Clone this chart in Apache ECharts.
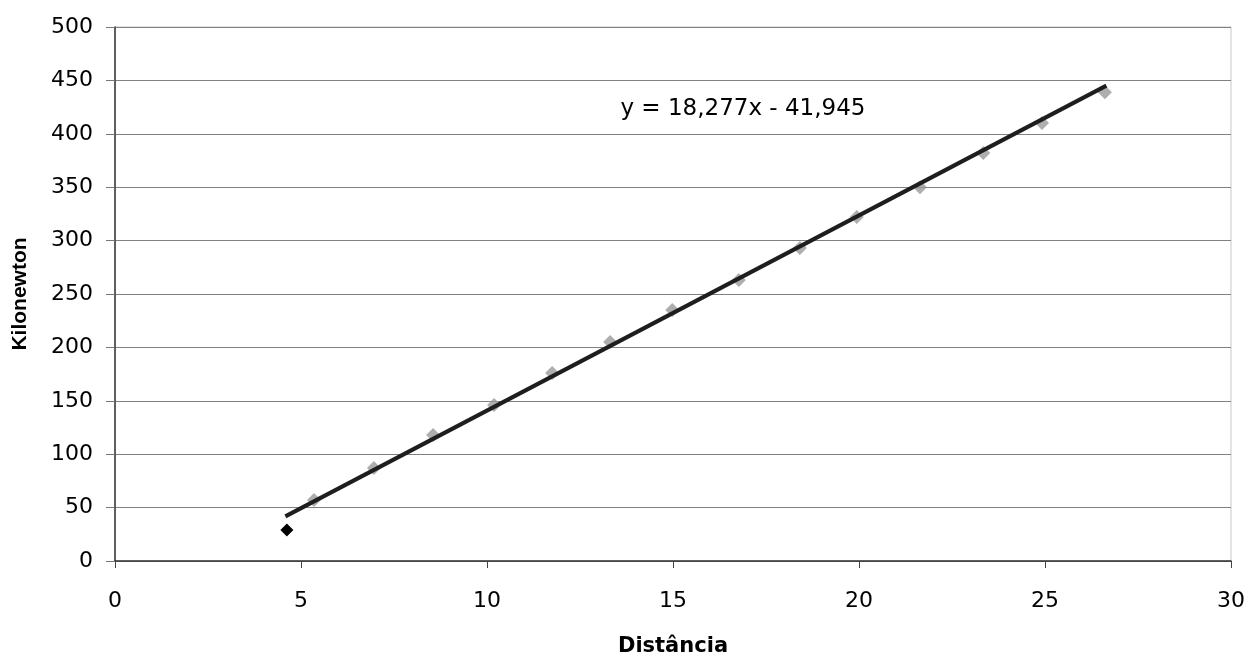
<!DOCTYPE html>
<html>
<head>
<meta charset="utf-8">
<script src="https://cdn.jsdelivr.net/npm/echarts@6/dist/echarts.min.js"></script>
<style>
html,body{margin:0;padding:0;background:#fff;}
#chart{width:1258px;height:660px;}
</style>
</head>
<body>
<div id="chart"></div>
<script>
// First (black) measurement
const firstX = [4.62];
const firstY = [29];
// Remaining measurements (gray diamonds)
const distancia = [5.35, 6.96, 8.55, 10.19, 11.75, 13.31, 14.98, 16.77, 18.41, 19.94, 21.64, 23.34, 24.92, 26.61];
const kilonewton = [57, 87, 118, 146, 176, 205, 235, 263, 293, 322, 350, 382, 410, 439];
// Linear trendline end points
const trendX = [4.58, 26.65];
const trendY = [41.8, 445.1];
const equationText = 'y = 18,277x - 41,945';
const xTicks = [0, 5, 10, 15, 20, 25, 30];
const yTicks = [0, 50, 100, 150, 200, 250, 300, 350, 400, 450, 500];

const zip = (a, b) => a.map((v, i) => [v, b[i]]);

const chart = echarts.init(document.getElementById('chart'), null, {renderer: 'canvas'});
chart.setOption({
  animation: false,
  backgroundColor: '#fff',
  grid: {left: 115, right: 27, top: 27, bottom: 99, outerBoundsMode: 'none', containLabel: false,
         show: true, borderColor: '#c8c8c8', borderWidth: 1, backgroundColor: 'transparent'},
  xAxis: {
    type: 'value', min: xTicks[0], max: xTicks[xTicks.length - 1], interval: 5,
    name: 'Distância', nameLocation: 'middle', nameGap: 75,
    nameTextStyle: {fontFamily: 'DejaVu Sans', fontWeight: 'bold', fontSize: 21, color: '#000'},
    axisLine: {show: true, onZero: false, lineStyle: {color: '#333', width: 1.5}},
    axisTick: {show: true, length: 7, lineStyle: {color: '#444'}},
    axisLabel: {fontFamily: 'DejaVu Sans', fontSize: 22, color: '#000', margin: 29},
    splitLine: {show: false}
  },
  yAxis: {
    type: 'value', min: yTicks[0], max: yTicks[yTicks.length - 1], interval: 50,
    name: 'Kilonewton', nameLocation: 'middle', nameGap: 84, nameRotate: 90,
    nameTextStyle: {fontFamily: 'Liberation Sans', fontWeight: 'bold', fontSize: 21, color: '#000'},
    axisLine: {show: true, lineStyle: {color: '#333', width: 1.5}},
    axisTick: {show: true, length: 9, lineStyle: {color: '#777'}},
    axisLabel: {fontFamily: 'DejaVu Sans', fontSize: 22, color: '#000', margin: 22},
    splitLine: {show: true, lineStyle: {color: '#808080', width: 1}}
  },
  series: [
    {
      type: 'scatter', name: 'dados', data: zip(distancia, kilonewton),
      symbol: 'diamond', symbolSize: 14,
      itemStyle: {color: '#9a9a9a'}, z: 2
    },
    {
      type: 'scatter', name: 'primeiro', data: zip(firstX, firstY),
      symbol: 'diamond', symbolSize: 13,
      itemStyle: {color: '#000', opacity: 1}, z: 2
    },
    {
      type: 'line', name: 'tendência', data: zip(trendX, trendY),
      showSymbol: false, symbol: 'none',
      lineStyle: {color: '#1e1e1e', width: 4}, z: 3,
      markPoint: {
        symbol: 'rect', symbolSize: 1, itemStyle: {color: 'transparent'},
        label: {show: true, formatter: equationText, fontFamily: 'DejaVu Sans', fontSize: 23, color: '#000', position: 'inside'},
        data: [{coord: [16.88, 423]}]
      }
    }
  ]
});
</script>
</body>
</html>
